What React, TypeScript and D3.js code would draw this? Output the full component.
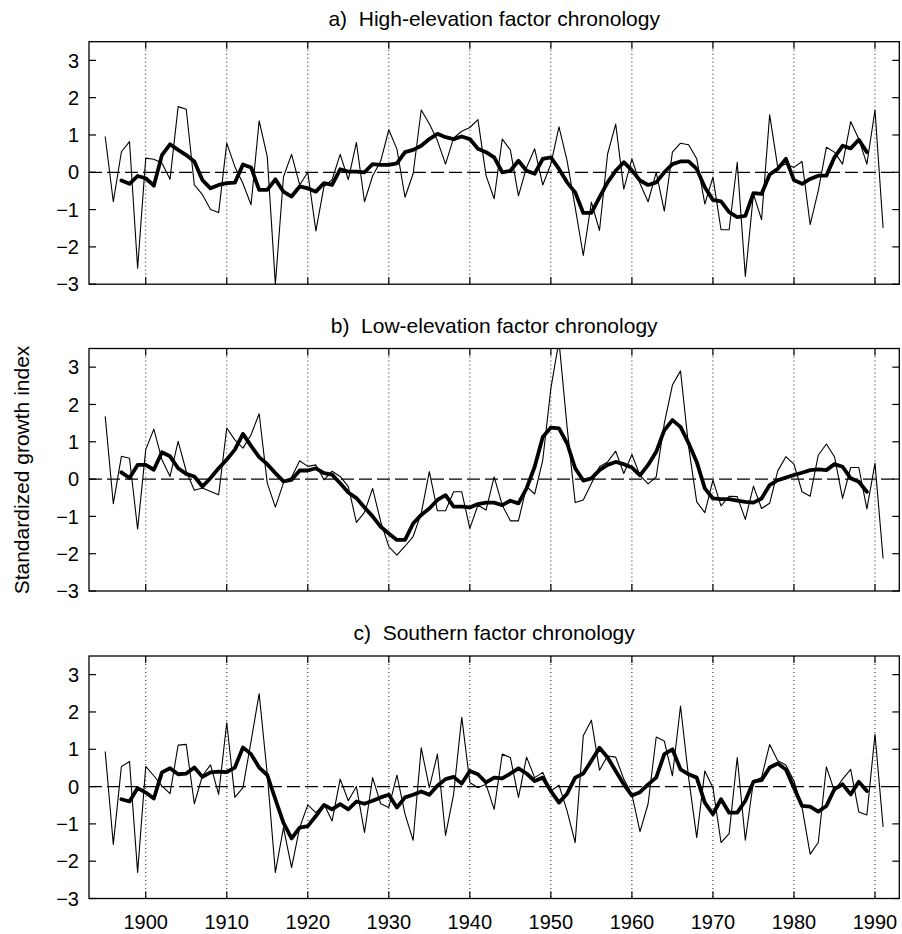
import React from 'react';
import * as d3 from 'd3';

const THIN_START = 1895;
const SMOOTH_START = 1897;

const highThin = [
  0.96, -0.79, 0.55, 0.82, -2.57, 0.38, 0.35, 0.25, -0.19, 1.76,
  1.69, -0.34, -0.6, -1.0, -1.08, 0.78, 0.15, -0.3, -0.87, 1.38,
  0.42, -3.0, -0.12, 0.48, -0.34, 0.0, -1.57, -0.38, -0.2, 0.48,
  -0.2, 0.8, -0.79, -0.1, 0.3, 1.14, 0.62, -0.67, -0.04, 1.67,
  1.3, 0.85, 0.22, 0.92, 1.1, 1.2, 1.41, -0.09, -0.71, 0.89,
  0.6, -0.63, 0.13, 0.63, -0.34, 0.22, 1.22, 0.31, -0.94, -2.23,
  -0.8, -1.56, 0.49, 1.29, -0.45, 0.36, -0.3, -0.79, 0.0, -1.04,
  0.54, 0.78, 0.74, 0.36, -0.85, -0.13, -1.54, -1.54, 0.27, -2.79,
  -0.58, -1.27, 1.54, 0.13, 0.22, 0.13, 0.29, -1.4, -0.49, 0.67,
  0.54, 0.22, 1.36, 0.89, 0.22, 1.67, -1.49,
];
const highSmooth = [
  -0.22, -0.31, -0.1, -0.16, -0.36, 0.46, 0.75, 0.6, 0.46, 0.29,
  -0.21, -0.43, -0.34, -0.29, -0.28, 0.21, 0.13, -0.47, -0.47, -0.19,
  -0.52, -0.65, -0.38, -0.43, -0.52, -0.29, -0.34, 0.08, 0.02, 0.02,
  0.0, 0.22, 0.2, 0.2, 0.24, 0.54, 0.6, 0.71, 0.89, 1.03,
  0.94, 0.89, 0.96, 0.89, 0.63, 0.54, 0.4, 0.0, 0.04, 0.31,
  0.04, -0.04, 0.36, 0.4, 0.09, -0.27, -0.54, -1.09, -1.09, -0.67,
  -0.27, 0.04, 0.27, 0.05, -0.22, -0.34, -0.27, 0.0, 0.22, 0.29,
  0.29, 0.09, -0.4, -0.74, -0.78, -1.07, -1.2, -1.17, -0.56, -0.58,
  -0.06, 0.09, 0.36, -0.21, -0.31, -0.18, -0.09, -0.09, 0.4, 0.71,
  0.64, 0.87, 0.54,
];

const lowThin = [
  1.68, -0.66, 0.61, 0.56, -1.34, 0.79, 1.34, 0.52, 0.07, 1.01,
  0.21, -0.3, -0.24, -0.33, -0.42, 1.37, 1.05, 0.83, 1.19, 1.75,
  -0.11, -0.75, -0.1, 0.05, 0.49, 0.34, 0.38, -0.02, 0.21, 0.07,
  -0.2, -1.16, -0.89, -0.25, -1.14, -1.81, -2.04, -1.8, -1.54, -0.92,
  0.2, -0.85, -0.85, -0.34, -0.34, -1.32, -0.7, -0.83, 0.06, -0.7,
  -1.12, -1.12, -0.2, -0.4, 0.51, 2.43, 3.7, 1.4, -0.63, -0.56,
  -0.12, 0.33, 0.46, 0.75, 0.15, 0.66, 0.1, -0.13, 0.06, 1.49,
  2.52, 2.9, 0.87, -0.61, -0.9, -0.03, -0.72, -0.46, -0.47, -1.08,
  -0.19, -0.79, -0.65, 0.22, 0.6, 0.4, -0.34, -0.46, 0.64, 0.94,
  0.6, -0.52, 0.31, 0.31, -0.8, 0.42, -2.13,
];
const lowSmooth = [
  0.18, 0.03, 0.38, 0.38, 0.25, 0.72, 0.61, 0.29, 0.14, 0.07,
  -0.2, 0.03, 0.29, 0.52, 0.79, 1.21, 0.89, 0.59, 0.4, 0.16,
  -0.06, -0.02, 0.23, 0.23, 0.29, 0.16, 0.12, -0.11, -0.36, -0.51,
  -0.76, -1.0, -1.28, -1.46, -1.63, -1.63, -1.19, -0.96, -0.79, -0.56,
  -0.43, -0.74, -0.74, -0.76, -0.67, -0.63, -0.63, -0.7, -0.58, -0.65,
  -0.25, 0.33, 1.13, 1.38, 1.36, 0.96, 0.29, -0.04, 0.02, 0.24,
  0.38, 0.46, 0.4, 0.31, 0.1, 0.38, 0.73, 1.31, 1.58, 1.4,
  0.96, 0.46, -0.25, -0.52, -0.54, -0.54, -0.58, -0.61, -0.63, -0.52,
  -0.16, -0.03, 0.04, 0.11, 0.17, 0.24, 0.26, 0.24, 0.4, 0.33,
  0.02, -0.07, -0.34,
];

const southThin = [
  0.94, -1.55, 0.54, 0.67, -2.3, 0.54, 0.29, 0.02, -0.19, 1.11,
  1.13, -0.46, 0.29, 0.58, -0.21, 1.71, -0.29, -0.03, 1.22, 2.49,
  0.33, -2.3, -1.1, -2.17, -1.1, -0.49, -0.7, -0.47, -0.92, 0.2,
  -0.38, 0.0, -1.23, 0.24, -0.46, -0.56, 0.31, -0.74, -1.44, 1.04,
  -0.03, 0.87, -1.31, -0.2, 1.86, 0.11, -0.03, 0.06, -0.61, 0.87,
  0.78, -0.29, 0.79, 0.24, 0.38, -0.12, 0.04, -0.65, -1.5, 1.36,
  1.78, 0.44, 0.82, 0.79, 0.2, -0.21, -1.21, -0.46, 1.33, 1.22,
  0.29, 2.16, 0.24, -1.37, 0.42, -0.03, -1.5, -1.26, 0.78, -1.44,
  0.15, 0.24, 1.13, 0.69, 0.58, 0.15, -0.56, -1.81, -1.5, 0.53,
  -0.12, 0.2, 0.46, -0.68, -0.76, 1.4, -1.08,
];
const southSmooth = [
  -0.34, -0.4, -0.04, -0.16, -0.32, 0.38, 0.49, 0.33, 0.35, 0.51,
  0.26, 0.38, 0.4, 0.39, 0.51, 1.05, 0.87, 0.51, 0.31, -0.34,
  -0.97, -1.39, -1.1, -1.06, -0.79, -0.49, -0.61, -0.47, -0.61, -0.4,
  -0.46, -0.38, -0.29, -0.22, -0.56, -0.29, -0.22, -0.13, -0.22, 0.02,
  0.2, 0.26, 0.08, 0.42, 0.33, 0.11, 0.24, 0.22, 0.35, 0.49,
  0.35, 0.15, 0.24, -0.12, -0.43, -0.19, 0.24, 0.35, 0.69, 1.04,
  0.78, 0.42, 0.06, -0.24, -0.15, 0.06, 0.24, 0.87, 1.0, 0.46,
  0.33, 0.24, -0.43, -0.74, -0.34, -0.7, -0.7, -0.38, 0.13, 0.17,
  0.51, 0.62, 0.46, -0.03, -0.52, -0.54, -0.67, -0.52, -0.07, 0.06,
  -0.21, 0.13, -0.12,
];

const titles = [
  'a)  High-elevation factor chronology',
  'b)  Low-elevation factor chronology',
  'c)  Southern factor chronology',
];
const decadeTicks = [1900, 1910, 1920, 1930, 1940, 1950, 1960, 1970, 1980, 1990];
const yTicks = [3, 2, 1, 0, -1, -2, -3];
const yLabel = 'Standardized growth index';

const panels = [
  { title: titles[0], thin: highThin, smooth: highSmooth },
  { title: titles[1], thin: lowThin, smooth: lowSmooth },
  { title: titles[2], thin: southThin, smooth: southSmooth },
];

const W = 902;
const H = 934;
const LEFT = 89;
const RIGHT = 899.3;
const TOPS = [41.7, 348.5, 656];
const PH = 242.5;
const FONT = '"Liberation Sans", Arial, Helvetica, sans-serif';

const x = d3.scaleLinear().domain([1893, 1993]).range([LEFT, RIGHT]);

const fmtY = (v: number) => (v < 0 ? '\u2212' + String(-v) : String(v));

function Panel({ idx }: { idx: number }) {
  const p = panels[idx];
  const top = TOPS[idx];
  const bottom = top + PH;
  const y = d3.scaleLinear().domain([-3, 3.5]).range([bottom, top]);
  const thinLine = d3
    .line<number>()
    .x((_, i) => x(THIN_START + i))
    .y((d) => y(d));
  const smoothLine = d3
    .line<number>()
    .x((_, i) => x(SMOOTH_START + i))
    .y((d) => y(d));
  const clipId = `clip${idx}`;
  const tl = 7;
  return (
    <g>
      <defs>
        <clipPath id={clipId}>
          <rect x={LEFT} y={top} width={RIGHT - LEFT} height={PH} />
        </clipPath>
      </defs>
      <text
        x={(LEFT + RIGHT) / 2}
        y={top - 16}
        textAnchor="middle"
        fontSize={21}
        fontFamily={FONT}
        style={{ whiteSpace: 'pre' }}
      >
        {p.title}
      </text>
      {decadeTicks.map((d) => (
        <line
          key={'g' + d}
          x1={x(d)}
          x2={x(d)}
          y1={top}
          y2={bottom}
          stroke="#000"
          strokeWidth={0.9}
          strokeDasharray="1,3"
        />
      ))}
      <line
        x1={LEFT}
        x2={RIGHT}
        y1={y(0)}
        y2={y(0)}
        stroke="#000"
        strokeWidth={1.2}
        strokeDasharray="13,5"
      />
      <g clipPath={`url(#${clipId})`}>
        <path d={thinLine(p.thin) || ''} fill="none" stroke="#000" strokeWidth={1.1} strokeLinejoin="round" />
        <path d={smoothLine(p.smooth) || ''} fill="none" stroke="#000" strokeWidth={3.8} strokeLinejoin="round" strokeLinecap="round" />
      </g>
      <rect x={LEFT} y={top} width={RIGHT - LEFT} height={PH} fill="none" stroke="#000" strokeWidth={1.3} />
      {decadeTicks.map((d) => (
        <g key={'t' + d}>
          <line x1={x(d)} x2={x(d)} y1={top} y2={top + tl} stroke="#000" strokeWidth={1.2} />
          <line x1={x(d)} x2={x(d)} y1={bottom} y2={bottom - tl} stroke="#000" strokeWidth={1.2} />
        </g>
      ))}
      {yTicks.map((v) => (
        <g key={'y' + v}>
          <line x1={LEFT} x2={LEFT + tl} y1={y(v)} y2={y(v)} stroke="#000" strokeWidth={1.2} />
          <line x1={RIGHT} x2={RIGHT - tl} y1={y(v)} y2={y(v)} stroke="#000" strokeWidth={1.2} />
          <text
            x={LEFT - 10}
            y={y(v)}
            dy="0.36em"
            textAnchor="end"
            fontSize={20}
            fontFamily={FONT}
          >
            {fmtY(v)}
          </text>
        </g>
      ))}
      {idx === 2 &&
        decadeTicks.map((d) => (
          <text key={'xl' + d} x={x(d)} y={929} textAnchor="middle" fontSize={20} fontFamily={FONT}>
            {String(d)}
          </text>
        ))}
    </g>
  );
}

export default function App() {
  return (
    <svg
      width={W}
      height={H}
      viewBox={`0 0 ${W} ${H}`}
      style={{ position: 'absolute', left: 0, top: 0, background: '#fff' }}
    >
      <rect x={0} y={0} width={W} height={H} fill="#fff" />
      {[0, 1, 2].map((i) => (
        <Panel key={i} idx={i} />
      ))}
      <text
        transform={`translate(29, 470) rotate(-90)`}
        textAnchor="middle"
        fontSize={21}
        fontFamily={FONT}
      >
        {yLabel}
      </text>
    </svg>
  );
}
